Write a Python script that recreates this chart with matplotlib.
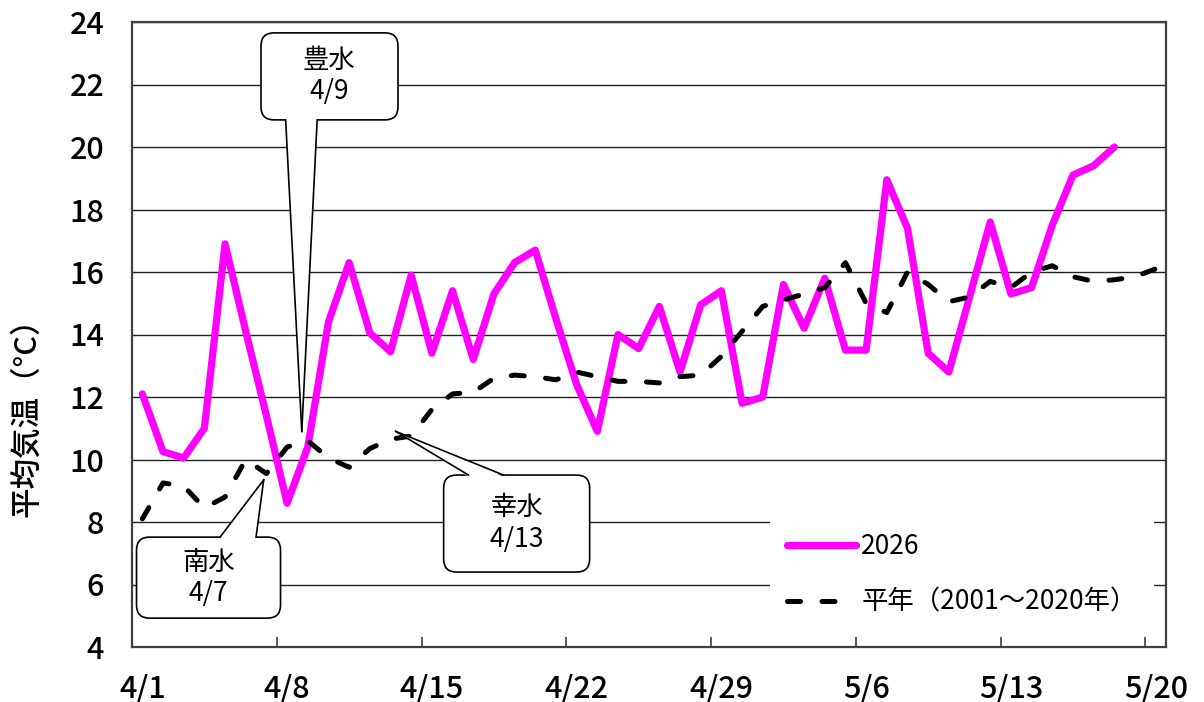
import numpy as np
import matplotlib.pyplot as plt
from matplotlib.patches import FancyBboxPatch, Polygon, Rectangle
from matplotlib.lines import Line2D
from matplotlib.transforms import IdentityTransform

plt.rcParams['font.family'] = ['Noto Sans CJK JP', 'DejaVu Sans']

# categories: 4/1 .. 5/20
dates = ['4/%d' % d for d in range(1, 31)] + ['5/%d' % d for d in range(1, 21)]
tick_labels = dates[::7]

# daily mean temperature 2026 (4/1 .. 5/18)
temp_2026 = [12.1, 10.25, 10.05, 11.0, 16.9, 14.1, 11.4, 8.6, 10.4, 14.4,
             16.3, 14.05, 13.45, 15.9, 13.4, 15.4, 13.2, 15.3, 16.3, 16.7,
             14.5, 12.4, 10.9, 14.0, 13.55, 14.9, 12.8, 14.95, 15.4, 11.8,
             12.0, 15.6, 14.2, 15.8, 13.5, 13.5, 18.95, 17.4, 13.4, 12.8,
             15.2, 17.6, 15.3, 15.5, 17.5, 19.1, 19.4, 20.0]

# normal 2001-2020 (4/1 .. 5/20)
temp_normal = [8.1, 9.25, 9.15, 8.45, 8.8, 10.0, 9.55, 10.4, 10.6, 10.05,
               9.75, 10.35, 10.65, 10.75, 11.6, 12.1, 12.15, 12.6, 12.7, 12.65,
               12.55, 12.8, 12.65, 12.5, 12.5, 12.45, 12.65, 12.7, 13.3, 14.1,
               14.9, 15.1, 15.3, 15.5, 16.3, 15.0, 14.7, 16.0, 15.6, 15.05,
               15.2, 15.7, 15.5, 16.0, 16.2, 15.85, 15.7, 15.75, 15.85, 16.1]

# callouts: label, tip (day index, value), box centre (day index, value), box size px, base span (fraction of width), side
callouts = [
    ('南水\n4/7', (5.87, 9.35), (3.2, 6.22), (144, 81), (0.58, 0.83), 'top'),
    ('豊水\n4/9', (7.71, 10.9), (9.05, 22.26), (137, 87), (0.18, 0.41), 'bottom'),
    ('幸水\n4/13', (12.25, 10.9), (18.1, 7.95), (146, 97), (0.17, 0.41), 'top'),
]

x = np.arange(len(dates))

fig = plt.figure(figsize=(12.04, 7.02), dpi=100)
ax = fig.add_subplot(111)
fig.subplots_adjust(left=132 / 1204, right=1166 / 1204, top=1 - 22 / 702, bottom=1 - 647 / 702)

l1, = ax.plot(x[:len(temp_2026)], temp_2026, color='#FF00FF', lw=5.2,
              solid_joinstyle='round', solid_capstyle='round', zorder=3, label='2026')
l2, = ax.plot(x, temp_normal, color='black', lw=3.6, dashes=(2.6, 4.3),
              dash_capstyle='round', zorder=4, label='平年（2001～2020年）')

ax.set_xlim(-0.5, 49.5)
ax.set_ylim(4, 24)
ax.set_yticks(np.arange(4, 25, 2))
ax.set_xticks(x[::7])
ax.set_xticklabels(tick_labels)
ax.set_xticks(np.arange(6.5, 50, 7), minor=True)
ax.tick_params(axis='both', which='major', length=0, labelsize=22)
ax.tick_params(axis='x', which='major', pad=19)
ax.tick_params(axis='y', which='major', pad=20)
ax.tick_params(axis='x', which='minor', direction='in', length=7, width=1.2, color='#404040')
for t in ax.get_xticklabels() + ax.get_yticklabels():
    t.set_fontweight('medium')

ax.set_axisbelow(True)
ax.grid(axis='y', color='#222222', lw=1.0)
for s in ax.spines.values():
    s.set_color('#404040')
    s.set_linewidth(1.6)

ax.set_ylabel('平均気温（°C）', fontsize=22, fontweight='medium')
ax.yaxis.set_label_coords(-0.087, 0.379)

# white area behind legend
ax.add_patch(Rectangle((0.617, 0.018), 0.371, 0.192, transform=ax.transAxes,
                       facecolor='white', edgecolor='none', zorder=1))
leg = ax.legend(handles=[l1, l2], loc='upper left', bbox_to_anchor=(0.6335, 0.182),
                frameon=False, fontsize=19, handlelength=2.6, handletextpad=0.22,
                labelspacing=1.08, borderpad=0, borderaxespad=0)

# callout boxes drawn in pixel space
ident = IdentityTransform()
for label, tip, centre, (w, h), (f0, f1), side in callouts:
    tx, ty = ax.transData.transform(tip)
    cx, cy = ax.transData.transform(centre)
    x0, y0 = cx - w / 2, cy - h / 2
    box = FancyBboxPatch((x0, y0), w, h, boxstyle='round,pad=0,rounding_size=13',
                         facecolor='white', edgecolor='black', lw=1.2,
                         transform=ident, zorder=6, clip_on=False)
    fig.patches.append(box)
    ey = y0 if side == 'bottom' else y0 + h
    inset = 1.5 if side == 'bottom' else -1.5
    bx0, bx1 = x0 + f0 * w, x0 + f1 * w
    wedge = Polygon([(bx0, ey + inset), (bx1, ey + inset), (tx, ty)], closed=True,
                    facecolor='white', edgecolor='none', transform=ident, zorder=7)
    fig.patches.append(wedge)
    for bx in (bx0, bx1):
        fig.lines.append(Line2D([bx, tx], [ey, ty], color='black', lw=1.2,
                                transform=ident, zorder=8))
    fig.text(cx / fig.dpi / fig.get_figwidth(), cy / fig.dpi / fig.get_figheight(),
             label, ha='center', va='center', fontsize=19, linespacing=1.2, zorder=9)

fig.savefig('out.png', dpi=100)
